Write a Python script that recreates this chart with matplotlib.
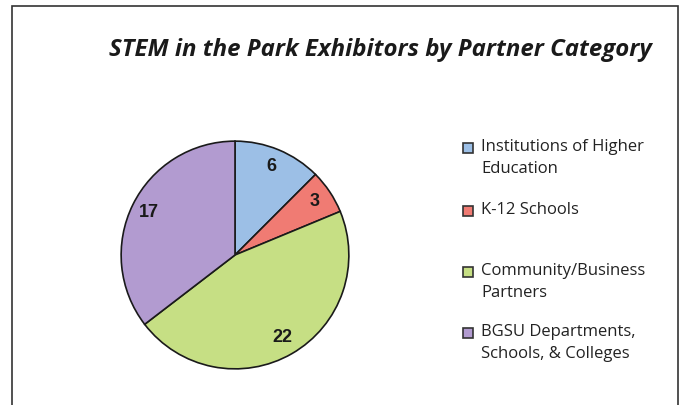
import matplotlib.pyplot as plt
from matplotlib.patches import Rectangle

categories = ["Institutions of Higher\nEducation", "K-12 Schools",
              "Community/Business\nPartners", "BGSU Departments,\nSchools, & Colleges"]
counts = [6, 3, 22, 17]
colors = ["#9cbfe6", "#f07b73", "#c6df84", "#b29bd0"]

W, H = 683, 405
fig = plt.figure(figsize=(W / 100, H / 100), dpi=100)

# outer frame (open at bottom, cut off by image edge)
fig.patches.append(Rectangle((12 / W, -0.05), (678 - 12) / W, (H - 6) / H + 0.05,
                             transform=fig.transFigure, fill=False,
                             edgecolor="#333333", linewidth=1.2))

fig.text(380 / W, 1 - 50 / H, "STEM in the Park Exhibitors by Partner Category",
         ha="center", va="center", fontsize=17.3, fontweight="bold", style="italic",
         family="Open Sans", color="#1a1a1a")

# pie: center ~ (235, 255) px, radius ~ 115 px
r = 115
cx, cy = 235, H - 255
ax = fig.add_axes([(cx - r) / W, (cy - r) / H, 2 * r / W, 2 * r / H])
wedges, texts, autotexts = ax.pie(
    counts, colors=colors, startangle=90, counterclock=False,
    autopct=lambda p: "%d" % round(p * sum(counts) / 100), pctdistance=0.84,
    wedgeprops=dict(edgecolor="#1a1a1a", linewidth=1.2))
for t in autotexts:
    t.set_fontsize(13)
    t.set_fontweight("bold")
    t.set_family(["Liberation Sans Narrow", "Liberation Sans", "DejaVu Sans"])
    t.set_color("#1a1a1a")
ax.set_xlim(-1.01, 1.01)
ax.set_ylim(-1.01, 1.01)
ax.set_aspect("equal")
ax.axis("off")

# legend entries (manual, uneven spacing as in original)
legend_y = [148, 211, 272, 333]
for lab, col, y in zip(categories, colors, legend_y):
    fig.patches.append(Rectangle((463 / W, 1 - (y + 5) / H), 10 / W, 10 / H,
                                 transform=fig.transFigure, facecolor=col,
                                 edgecolor="#333333", linewidth=1.2))
    fig.text(481 / W, 1 - (y - 9) / H, lab, ha="left", va="top", fontsize=12,
             family="Open Sans", color="#222222", linespacing=1.5)

fig.savefig("out.png", dpi=100)
